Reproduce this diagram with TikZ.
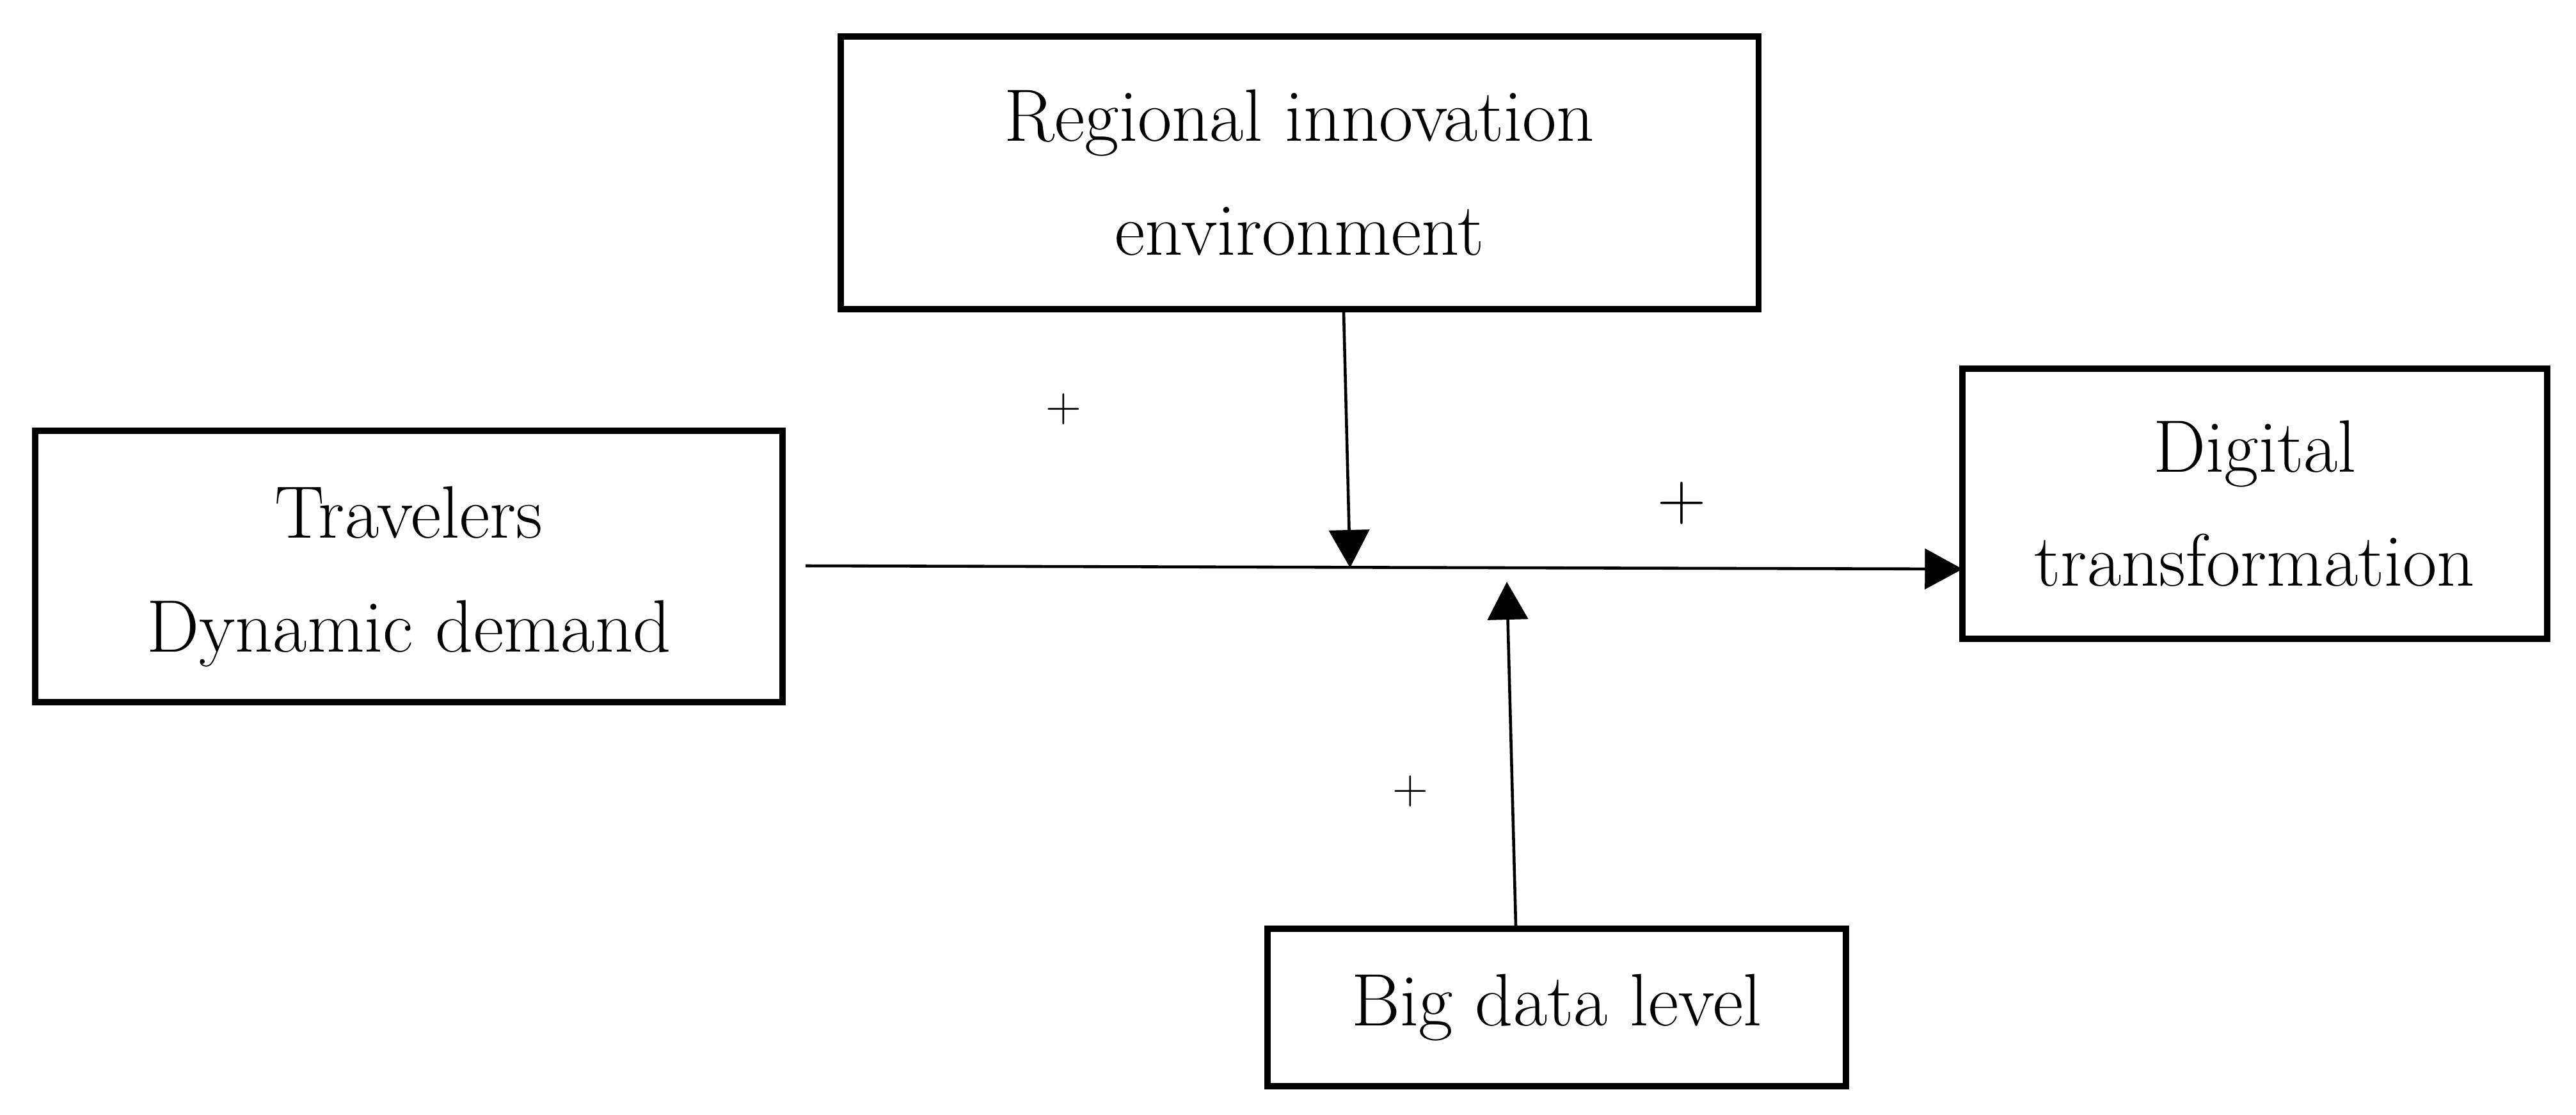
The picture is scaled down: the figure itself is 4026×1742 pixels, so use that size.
\documentclass[tikz,border=0pt]{standalone}
\usetikzlibrary{arrows.meta,calc}
\begin{document}
\begin{tikzpicture}[x=0.01cm, y=-0.01cm, line width=1.3pt,
  main node/.style={rectangle,draw,line width=2.8pt,align=center,inner sep=0pt,font=\fontsize{33}{50.6}\selectfont},
  sign node/.style={inner sep=0pt,font=\fontsize{22}{22}\selectfont},
  flow/.style={-{Triangle[length=0.59cm,width=0.63cm]}}]
\useasboundingbox (0,0) rectangle (4026,1742);
\node[main node,minimum width=14.34cm,minimum height=4.25cm] (reg) at (2031,270) {Regional innovation\\environment};
\node[main node,minimum width=11.67cm,minimum height=4.24cm] (trav) at (639,885) {\rule{0pt}{32pt}Travelers\\Dynamic demand};
\node[main node,minimum width=9.13cm,minimum height=4.22cm] (dig) at (3524,787) {Digital\\transformation};
\node[main node,minimum width=9.03cm,minimum height=2.46cm] (big) at (2433,1574) {Big data level};
\node[sign node] (p1) at (1662,639) {+};
\node[sign node,font=\fontsize{30}{30}\selectfont] (p2) at (2628,786) {+};
\node[sign node] (p3) at (2204,1236) {+};
\coordinate (hit) at (2110,887);
\coordinate (hit2) at (2355,909);
\draw[flow] ($(trav.east)+(31,-1)$) -- ($(dig.west)+(5,102)$);
\draw[flow] ($(reg.south)+(69,0)$) -- (hit);
\draw[flow] ($(big.north)+(-64,0)$) -- (hit2);
\end{tikzpicture}
\end{document}
